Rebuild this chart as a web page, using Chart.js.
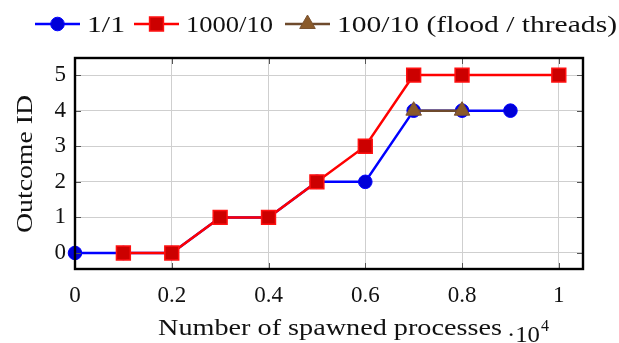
<!DOCTYPE html>
<html>
<head>
<meta charset="utf-8">
<script src="https://cdn.jsdelivr.net/npm/chart.js@4/dist/chart.umd.min.js"></script>
<style>
  html, body { margin: 0; padding: 0; background: #fff; }
  #wrap { width: 619px; height: 343px; position: relative; }
</style>
</head>
<body>
<div id="wrap"><canvas id="outcomeChart"></canvas></div>
<script>
// data (x in units of 10^4 spawned processes)
const seriesNames = ["1/1", "1000/10", "100/10 (flood / threads)"];
const xSingle = [0, 0.1, 0.2, 0.3, 0.4, 0.5, 0.6, 0.7, 0.8, 0.9];
const ySingle = [0, 0, 0, 1, 1, 2, 2, 4, 4, 4];
const xThousand = [0.1, 0.2, 0.3, 0.4, 0.5, 0.6, 0.7, 0.8, 1.0];
const yThousand = [0, 0, 1, 1, 2, 3, 5, 5, 5];
const xFlood = [0.7, 0.8];
const yFlood = [4, 4];
const xTicks = [0, 0.2, 0.4, 0.6, 0.8, 1];
const yTicks = [0, 1, 2, 3, 4, 5];

const FONT = "'Liberation Serif', 'DejaVu Serif', serif";

function toPoints(xs, ys) {
    return xs.map((x, i) => ({ x: x, y: ys[i] }));
}

// the reference uses a wide serif, so stretch text to the width it takes there
function fitText(ctx, text, x, y, width) {
    const w = ctx.measureText(text).width;
    ctx.save();
    ctx.translate(x, y);
    ctx.scale(width / w, 1);
    ctx.fillText(text, 0, 0);
    ctx.restore();
}

// pgfplots-like frame: thick border + inward ticks on all four sides, axis titles, legend
const framePlugin = {
    id: "frame",
    afterDraw(chart) {
        const ctx = chart.ctx;
        const a = chart.chartArea;
        const xs = chart.scales.x, ys = chart.scales.y;
        ctx.save();
        ctx.strokeStyle = "#555";
        ctx.lineWidth = 1;
        ctx.beginPath();
        xTicks.forEach(v => {
            const px = Math.round(xs.getPixelForValue(v)) + 0.5;
            ctx.moveTo(px, a.bottom); ctx.lineTo(px, a.bottom - 6);
            ctx.moveTo(px, a.top); ctx.lineTo(px, a.top + 6);
        });
        yTicks.forEach(v => {
            const py = Math.round(ys.getPixelForValue(v)) + 0.5;
            ctx.moveTo(a.left, py); ctx.lineTo(a.left + 6, py);
            ctx.moveTo(a.right, py); ctx.lineTo(a.right - 6, py);
        });
        ctx.stroke();

        ctx.strokeStyle = "#000";
        ctx.lineWidth = 2.4;
        ctx.strokeRect(a.left, a.top, a.right - a.left, a.bottom - a.top);

        // axis titles
        ctx.fillStyle = "#111";
        ctx.font = "23px " + FONT;
        ctx.textAlign = "left";
        ctx.textBaseline = "alphabetic";
        fitText(ctx, "Number of spawned processes", 158, 335, 344);
        fitText(ctx, "\u00b710", 507, 342, 33);
        ctx.font = "16px " + FONT;
        ctx.fillText("4", 541, 331);
        ctx.font = "23px " + FONT;
        ctx.save();
        ctx.translate(32, 233);
        ctx.rotate(-Math.PI / 2);
        fitText(ctx, "Outcome ID", 0, 0, 138);
        ctx.restore();

        // legend
        const items = [
            { x: 35, w: 38, ds: chart.data.datasets[0] },
            { x: 134, w: 87, ds: chart.data.datasets[1] },
            { x: 285, w: 280, ds: chart.data.datasets[2] }
        ];
        const ly = 24;
        items.forEach(it => {
            const ds = it.ds;
            ctx.strokeStyle = ds.borderColor;
            ctx.lineWidth = ds.borderWidth;
            ctx.beginPath();
            ctx.moveTo(it.x, ly); ctx.lineTo(it.x + 45, ly);
            ctx.stroke();
            ctx.fillStyle = ds.pointBackgroundColor;
            ctx.strokeStyle = ds.pointBorderColor;
            ctx.lineWidth = ds.pointBorderWidth;
            Chart.helpers.drawPoint(ctx, {
                pointStyle: ds.pointStyle,
                radius: ds.pointRadius,
                borderWidth: ds.pointBorderWidth,
                rotation: 0
            }, it.x + 22.5, ly);
            ctx.fillStyle = "#111";
            ctx.font = "23px " + FONT;
            ctx.textAlign = "left";
            ctx.textBaseline = "alphabetic";
            fitText(ctx, ds.label, it.x + 52, ly + 8, it.w);
        });
        ctx.restore();
    }
};

const ctx = document.getElementById("outcomeChart").getContext("2d");
const chart = new Chart(ctx, {
    type: "line",
    data: {
        datasets: [
            {
                label: seriesNames[0],
                data: toPoints(xSingle, ySingle),
                borderColor: "#0000ff",
                borderWidth: 2.5,
                pointStyle: "circle",
                pointRadius: 6.8,
                pointBackgroundColor: "#0000d8",
                pointBorderColor: "#0000ff",
                pointBorderWidth: 1,
                order: 3
            },
            {
                label: seriesNames[1],
                data: toPoints(xThousand, yThousand),
                borderColor: "#ff0000",
                borderWidth: 2.5,
                pointStyle: "rect",
                pointRadius: 9.8,
                pointBackgroundColor: "#cc0000",
                pointBorderColor: "#ff1010",
                pointBorderWidth: 1.5,
                order: 2
            },
            {
                label: seriesNames[2],
                data: toPoints(xFlood, yFlood),
                borderColor: "#6e4a2c",
                borderWidth: 2.5,
                pointStyle: "triangle",
                pointRadius: 9,
                pointBackgroundColor: "#8a5a2a",
                pointBorderColor: "#7a5230",
                pointBorderWidth: 1,
                order: 1
            }
        ]
    },
    options: {
        responsive: true,
        maintainAspectRatio: false,
        animation: false,
        clip: false,
        layout: { padding: { top: 58, right: 36, left: 0, bottom: 0 } },
        plugins: {
            legend: { display: false },
            tooltip: { enabled: false }
        },
        scales: {
            x: {
                type: "linear",
                min: 0,
                max: 1.05,
                afterBuildTicks: s => { s.ticks = xTicks.map(v => ({ value: v })); },
                afterFit: s => { s.height = 74; },
                grid: { color: "#cfcfcf", lineWidth: 1, drawTicks: false },
                border: { display: false },
                ticks: {
                    padding: 13,
                    color: "#111",
                    font: { family: FONT, size: 23 },
                    maxRotation: 0,
                    callback: v => String(Math.round(v * 10) / 10)
                }
            },
            y: {
                type: "linear",
                min: -0.45,
                max: 5.48,
                afterBuildTicks: s => { s.ticks = yTicks.map(v => ({ value: v })); },
                afterFit: s => { s.width = 75; },
                grid: { color: "#cfcfcf", lineWidth: 1, drawTicks: false },
                border: { display: false },
                ticks: {
                    padding: 9,
                    color: "#111",
                    font: { family: FONT, size: 23 }
                }
            }
        }
    },
    plugins: [framePlugin]
});
</script>
</body>
</html>
